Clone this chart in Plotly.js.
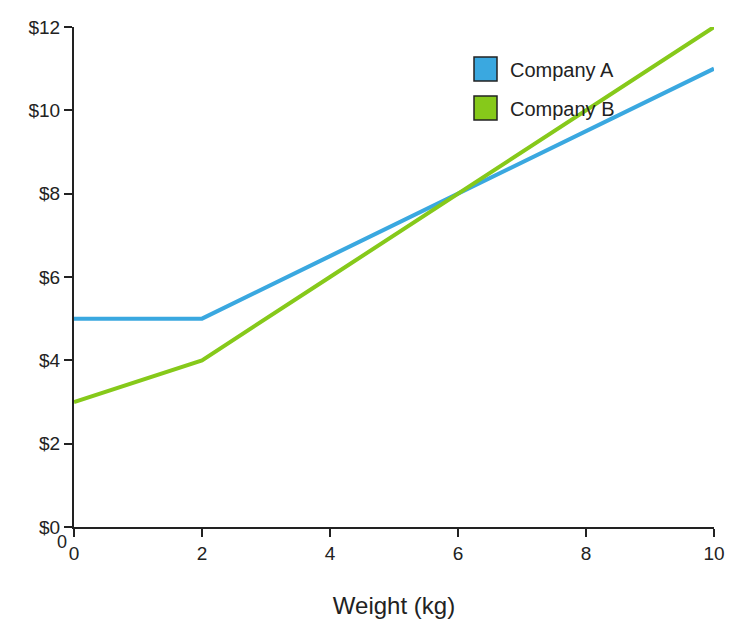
<!DOCTYPE html>
<html><head><script src="https://cdn.plot.ly/plotly-3.0.0.min.js"></script></head>
<body style="margin:0">
<div id="chart" style="width:745px;height:641px"></div>
<script>
/* * Data * */
var weights = [0, 2, 4, 6, 8, 10];
var company_a = [5, 5, 6.5, 8, 9.5, 11];
var company_b = [3, 4, 6, 8, 10, 12];
var names = ['Company A', 'Company B'];
var colors = ['#3aa8e0', '#86c91a'];

var traces = [
    { x: weights, y: company_a, type: 'scatter', mode: 'lines', line: { color: colors[0], width: 4 }, showlegend: false },
    { x: weights, y: company_b, type: 'scatter', mode: 'lines', line: { color: colors[1], width: 4 }, showlegend: false }
];

/* * Legend drawn as square swatches * */
var shapes = [], annotations = [];
for (var i = 0; i < names.length; i++) {
    var row_top = 57 + i * 39;
    shapes.push({ type: 'rect', xref: 'paper', yref: 'paper',
        x0: (474 - 74) / 640, x1: (497 - 74) / 640,
        y0: (527 - row_top - 24) / 500, y1: (527 - row_top) / 500,
        fillcolor: colors[i], line: { color: '#222', width: 1.5 } });
    annotations.push({ xref: 'paper', yref: 'paper', x: (508 - 74) / 640, y: (527 - row_top - 13) / 500,
        xanchor: 'left', yanchor: 'middle', text: names[i], showarrow: false,
        font: { size: 20, color: '#222' } });
}
annotations.push({ xref: 'paper', yref: 'paper', x: -12 / 640, y: -15 / 500, text: '0',
    xanchor: 'center', yanchor: 'middle', showarrow: false, font: { size: 18, color: '#222' } });

var layout = {
    margin: { l: 74, r: 31, t: 27, b: 114 },
    font: { family: 'Liberation Sans, Arial, sans-serif', color: '#222' },
    plot_bgcolor: '#fff', paper_bgcolor: '#fff',
    xaxis: { range: [0, 10], tickvals: weights, showgrid: false, zeroline: false,
        showline: true, linecolor: '#222', linewidth: 2, ticks: 'outside', ticklen: 8, tickwidth: 2, tickcolor: '#222',
        tickfont: { size: 19 }, title: { text: 'Weight (kg)', font: { size: 24 }, standoff: 34 } },
    yaxis: { range: [0, 12], tickvals: [0, 2, 4, 6, 8, 10, 12], ticktext: ['$0','$2','$4','$6','$8','$10','$12'],
        showgrid: false, zeroline: false,
        showline: true, linecolor: '#222', linewidth: 2, ticks: 'outside', ticklen: 8, tickwidth: 2, tickcolor: '#222',
        tickfont: { size: 19 } },
    shapes: shapes,
    annotations: annotations
};

Plotly.newPlot('chart', traces, layout, { displayModeBar: false });
</script>
</body></html>
